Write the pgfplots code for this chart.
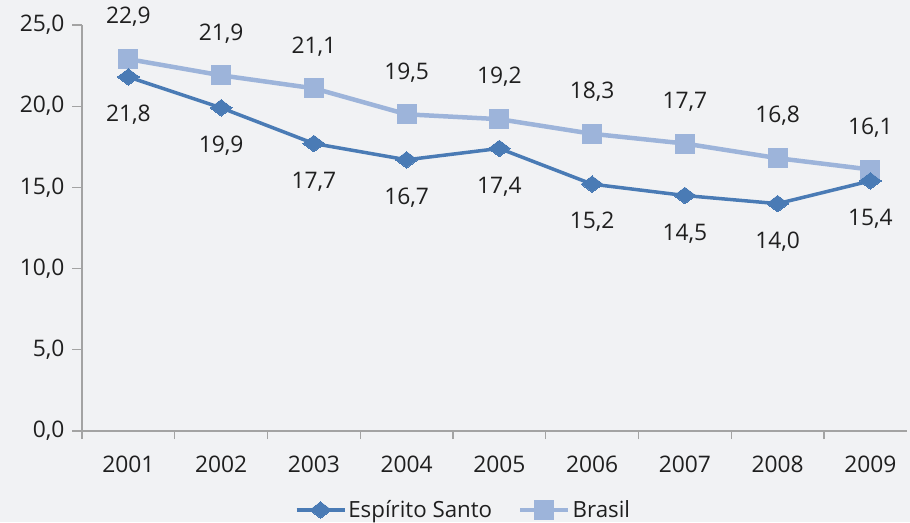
\documentclass[border=0pt]{standalone}
\usepackage{pgfplots}
\pgfplotsset{compat=1.18}
\usepackage{fontspec}
\setmainfont{Open Sans}
\definecolor{bg}{HTML}{F1F2F4}
\definecolor{es}{HTML}{4A7BB5}
\definecolor{br}{HTML}{9DB4DA}
\definecolor{axgray}{HTML}{A3A3A3}
\begin{document}
\begin{tikzpicture}
\fill[bg] (0,0) rectangle (910pt,522pt);
\useasboundingbox (0,0) rectangle (910pt,522pt);
\begin{axis}[
  at={(82pt,91pt)}, anchor=south west,
  scale only axis, width=825pt, height=406pt,
  xmin=-0.5, xmax=8.395, ymin=0, ymax=25,
  axis x line*=bottom, axis y line*=left,
  axis line style={axgray, line width=1.6pt, -},
  every tick/.style={axgray, line width=1.3pt},
  tick align=outside,
  xtick={0,...,8},
  xticklabels={2001,2002,2003,2004,2005,2006,2007,2008,2009},
  major x tick style={draw=none},
  minor xtick={-0.5,0.5,...,7.5},
  minor tick length=8pt,
  ytick={0,5,...,25},
  major tick length=10pt,
  /pgf/number format/use comma,
  /pgf/number format/fixed,
  /pgf/number format/fixed zerofill,
  /pgf/number format/precision=1,
  /pgf/number format/assume math mode=true,
  tick label style={font=\fontsize{22.8}{26}\selectfont, text=black!88},
  xticklabel style={yshift=-11pt},
  yticklabel style={xshift=-4pt},
  clip=false,
  nodes near coords,
  every node near coord/.append style={font=\fontsize{22.8}{26}\selectfont, text=black!88, anchor=center},
  legend columns=2,
  reverse legend,
  legend style={at={(0.4624,-0.1946)}, anchor=center, draw=none, fill=none,
    font=\fontsize{22.3}{26}\selectfont, text=black!88,
    /tikz/every even column/.append style={column sep=24pt}},
  legend image code/.code={\draw[mark repeat=2,mark phase=2] plot coordinates {(0pt,0pt) (24pt,0pt) (48pt,0pt)};},
]
\addplot[color=br, line width=4.5pt, mark=square*, mark size=9.5pt, mark options={line width=0pt, fill=br, draw=br},
  every node near coord/.append style={yshift=42pt}]
  coordinates {(0,22.9)(1,21.9)(2,21.1)(3,19.5)(4,19.2)(5,18.3)(6,17.7)(7,16.8)(8,16.1)};
\addplot[color=es, line width=3.5pt, mark=diamond*, mark size=11pt, mark options={line width=0pt, fill=es, draw=es, rotate=90},
  every node near coord/.append style={yshift=-38pt}]
  coordinates {(0,21.8)(1,19.9)(2,17.7)(3,16.7)(4,17.4)(5,15.2)(6,14.5)(7,14.0)(8,15.4)};
\legend{Brasil, Espírito Santo}
\end{axis}
\end{tikzpicture}
\end{document}
